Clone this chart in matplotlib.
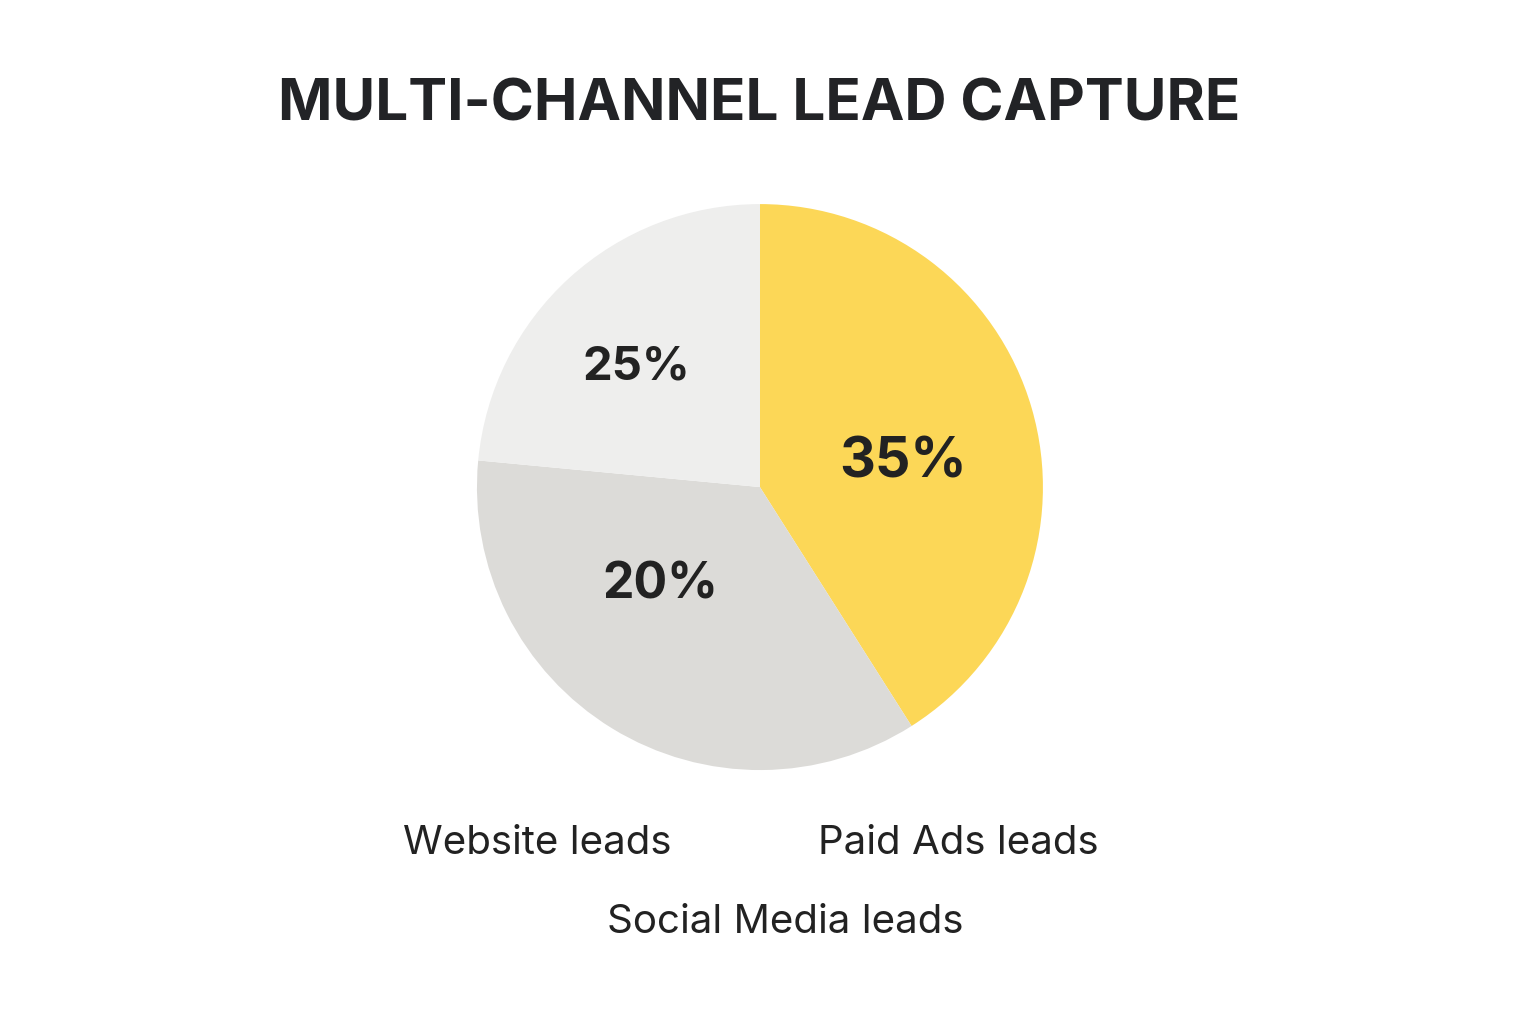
import matplotlib
matplotlib.use("Agg")
import matplotlib.pyplot as plt

plt.rcParams['font.family'] = ['Inter', 'DejaVu Sans']

title = "MULTI-CHANNEL LEAD CAPTURE"
wedge_sizes = [41.0, 35.5, 23.5]          # as drawn (clockwise from top)
wedge_labels = ["35%", "20%", "25%"]       # printed labels
colors = ["#FCD757", "#DCDBD8", "#EEEEED"]
legend_names = ["Website leads", "Paid Ads leads", "Social Media leads"]

fig = plt.figure(figsize=(15.36, 10.24), dpi=100)
fig.patch.set_facecolor("white")
ax = fig.add_axes([0.3105, 0.248, 0.3685, 0.5527])
ax.pie(wedge_sizes, colors=colors, startangle=90, counterclock=False,
       radius=1, wedgeprops=dict(linewidth=0))
ax.set_xlim(-1, 1); ax.set_ylim(-1, 1); ax.set_aspect('equal'); ax.axis('off')

label_pos = [(0.505, 0.088), (-0.353, -0.346), (-0.435, 0.424)]
label_sizes = [40, 36, 34]
for (x, y), t, s in zip(label_pos, wedge_labels, label_sizes):
    ax.text(x, y, t, ha='center', va='center', fontsize=s, fontweight='bold', color='#222222')

fig.text(0.494, 0.897, title, ha='center', va='center', fontsize=42, fontweight='bold', color='#222326')
fig.text(0.350, 0.176, legend_names[0], ha='center', va='center', fontsize=29, color='#222222')
fig.text(0.624, 0.176, legend_names[1], ha='center', va='center', fontsize=29, color='#222222')
fig.text(0.511, 0.099, legend_names[2], ha='center', va='center', fontsize=29, color='#222222')

fig.savefig("out.png", dpi=100, facecolor="white")
